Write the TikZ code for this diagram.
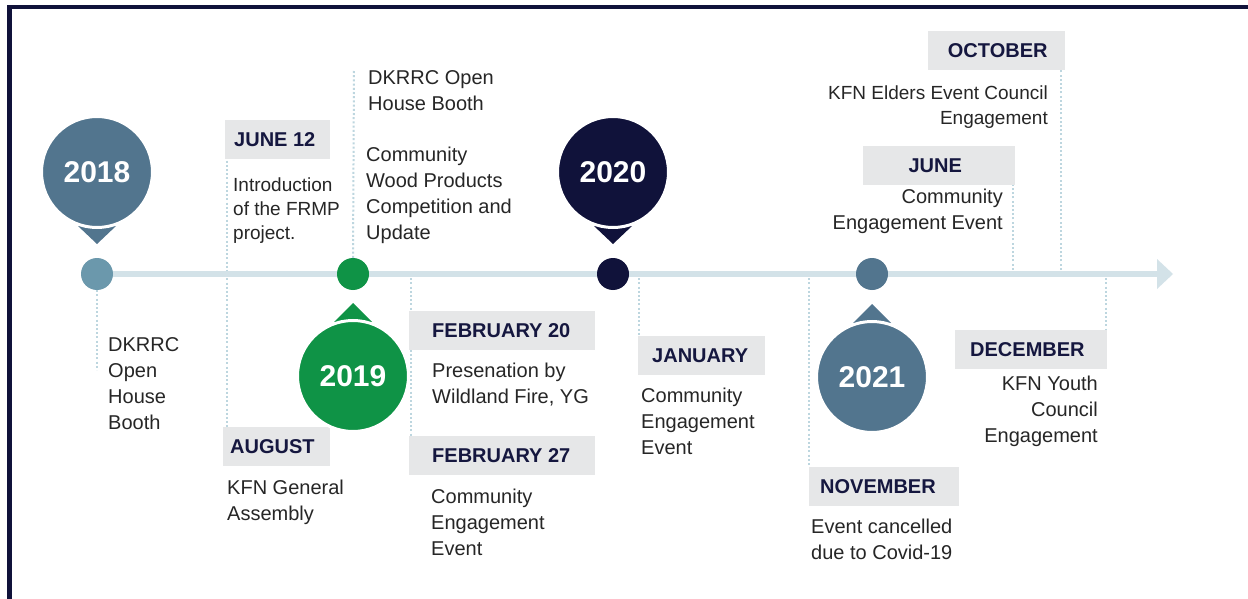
\documentclass[tikz,border=0pt]{standalone}
\usepackage{fontspec}
\setmainfont{Liberation Sans}
\usetikzlibrary{calc}

\definecolor{navy}{HTML}{10123A}
\definecolor{steel}{HTML}{52758E}
\definecolor{steellight}{HTML}{6B98AC}
\definecolor{leaf}{HTML}{0F9346}
\definecolor{rail}{HTML}{D3E2E8}
\definecolor{guidec}{HTML}{BDD6DF}
\definecolor{tag}{HTML}{E6E7E8}
\definecolor{ink}{HTML}{262626}
\definecolor{tagink}{HTML}{15173F}

\pgfdeclarelayer{guides}
\pgfdeclarelayer{rails}
\pgfsetlayers{guides,rails,main}

\tikzset{
  year/.style={circle, minimum size=111pt, inner sep=0pt, draw=white, line width=3pt,
    text=white, font=\bfseries\fontsize{30}{31}\selectfont},
  dot/.style={circle, minimum size=32pt, inner sep=0pt},
  guide/.style={draw=guidec, line width=2pt, dash pattern=on 2pt off 2.2pt},
  tagbox/.style={rectangle, fill=tag, minimum height=39pt, inner sep=0pt, anchor=north west},
  tagtext/.style={text=tagink, font=\bfseries\fontsize{20}{21}\selectfont, inner sep=0pt},
  body/.style={text=ink, font=\fontsize{20}{26}\selectfont, inner sep=0pt, align=left, anchor=north west},
  bodyr/.style={body, align=right, anchor=north east},
}

\begin{document}
\begin{tikzpicture}[x=1pt,y=-1pt]
\useasboundingbox (0,0) rectangle (1248,599);
\begin{pgfonlayer}{guides}
\fill[white] (0,0) rectangle (1248,599);
\end{pgfonlayer}

% frame
\draw[navy, line width=4.5pt] (9.5,599) -- (9.5,7) -- (1248,7);

% points on the rail
\node[dot, fill=steellight] (d18) at (97,274) {};
\node[dot, fill=leaf] (d19) at (353,274) {};
\node[dot, fill=navy] (d20) at (613,274) {};
\node[dot, fill=steel] (d21) at (872,274) {};
\coordinate (rend) at (1157,274);
\coordinate (rtip) at (1173,274);

% rail positions where guides start
\coordinate (r411) at (411,274);
\coordinate (r639) at (639,274);
\coordinate (r809) at (809,274);
\coordinate (r1106) at (1106,274);
\coordinate (r1013) at (1013,274);
\coordinate (r1061) at (1061,274);
\coordinate (g18) at (97,370);
\coordinate (g19) at (354,69);

% date tags
\node[tagbox, minimum width=105pt] (tJune12) at (225,120) {};
\node[tagtext, anchor=base west] (lJune12) at ([xshift=9pt,yshift=-7pt]tJune12.west) {JUNE 12};
\node[tagbox, minimum width=107pt] (tAug) at (223,427) {};
\node[tagtext, anchor=base west] (lAug) at ([xshift=7pt,yshift=-7pt]tAug.west) {AUGUST};
\node[tagbox, minimum width=186pt] (tFeb20) at (409,311) {};
\node[tagtext, anchor=base west] (lFeb20) at ([xshift=23pt,yshift=-7pt]tFeb20.west) {FEBRUARY 20};
\node[tagbox, minimum width=186pt] (tFeb27) at (409,436) {};
\node[tagtext, anchor=base west] (lFeb27) at ([xshift=23pt,yshift=-7pt]tFeb27.west) {FEBRUARY 27};
\node[tagbox, minimum width=127pt] (tJan) at (638,336) {};
\node[tagtext, anchor=base west] (lJan) at ([xshift=14pt,yshift=-7pt]tJan.west) {JANUARY};
\node[tagbox, minimum width=150pt] (tNov) at (809,467) {};
\node[tagtext, anchor=base west] (lNov) at ([xshift=11pt,yshift=-7pt]tNov.west) {NOVEMBER};
\node[tagbox, minimum width=152pt] (tDec) at (955,330) {};
\node[tagtext, anchor=base west] (lDec) at ([xshift=15pt,yshift=-7pt]tDec.west) {DECEMBER};
\node[tagbox, minimum width=152pt] (tJune) at (863,146) {};
\node[tagtext, anchor=base] (lJune) at ([xshift=-4pt,yshift=-7pt]tJune.center) {JUNE};
\node[tagbox, minimum width=137pt] (tOct) at (928,31) {};
\node[tagtext, anchor=base] (lOct) at ([xshift=1pt,yshift=-7pt]tOct.center) {OCTOBER};

% event descriptions
\node[body] (e18) at (108,337) {DKRRC\\Open\\House\\Booth};
\node[body, font=\fontsize{19}{24}\selectfont] (eJune12) at (233,178) {Introduction\\of the FRMP\\project.};
\node[body] (eAug) at (227,480) {KFN General\\Assembly};
\node[body] (eOpen) at (368,70) {DKRRC Open\\House Booth};
\node[body] (eWood) at (366,147) {Community\\Wood Products\\Competition and\\Update};
\node[body] (eFeb20) at (432,363) {Presenation by\\Wildland Fire, YG};
\node[body] (eFeb27) at (431,489) {Community\\Engagement\\Event};
\node[body] (eJan) at (641,388) {Community\\Engagement\\Event};
\node[body] (eNov) at (811,519) {Event cancelled\\due to Covid-19};
\node[bodyr] (eDec) at (1098,376) {KFN Youth\\Council\\Engagement};
\node[bodyr] (eJune) at (1003,189) {Community\\Engagement Event};
\node[bodyr, font=\fontsize{19}{25}\selectfont] (eOct) at (1048,86) {KFN Elders Event Council\\Engagement};

% year pins
\coordinate (p18) at (97,172);
\fill[steel] ($(p18)+(-19,54)$) -- ($(p18)+(19,54)$) -- ($(p18)+(0,72)$) -- cycle;
\node[year, fill=steel] (y18) at (p18) {2018};
\coordinate (p20) at (613,172);
\fill[navy] ($(p20)+(-19,54)$) -- ($(p20)+(19,54)$) -- ($(p20)+(0,72)$) -- cycle;
\node[year, fill=navy] (y20) at (p20) {2020};
\coordinate (p19) at (353,376);
\fill[leaf] ($(p19)+(-19,-54)$) -- ($(p19)+(19,-54)$) -- ($(p19)+(0,-73)$) -- cycle;
\node[year, fill=leaf] (y19) at (p19) {2019};
\coordinate (p21) at (872,377);
\fill[steel] ($(p21)+(-19,-54)$) -- ($(p21)+(19,-54)$) -- ($(p21)+(0,-73)$) -- cycle;
\node[year, fill=steel] (y21) at (p21) {2021};

% rail with its arrow head
\begin{pgfonlayer}{rails}
\draw[rail, line width=6pt] (d18.center) -- (rend);
\fill[rail] ($(rend)+(0,-15)$) -- (rtip) -- ($(rend)+(0,15)$) -- cycle;
\end{pgfonlayer}

% dotted guides
\begin{pgfonlayer}{guides}
\draw[guide] (d18.south) -- (g18);
\draw[guide] ([xshift=1.5pt]tJune12.west) -- ([xshift=1.5pt]tAug.north west -| tJune12.west);
\draw[guide] (d19.north) -- (g19);
\draw[guide] (r411) -- (r411 |- tFeb27.north);
\draw[guide] (r639) -- (r639 |- tJan.north);
\draw[guide] (r809) -- (r809 |- tNov.north);
\draw[guide] (r1106) -- (r1106 |- tDec.south);
\draw[guide] (r1013) -- (r1013 |- tJune.south);
\draw[guide] (r1061) -- (r1061 |- tOct.south);
\end{pgfonlayer}
\end{tikzpicture}
\end{document}
